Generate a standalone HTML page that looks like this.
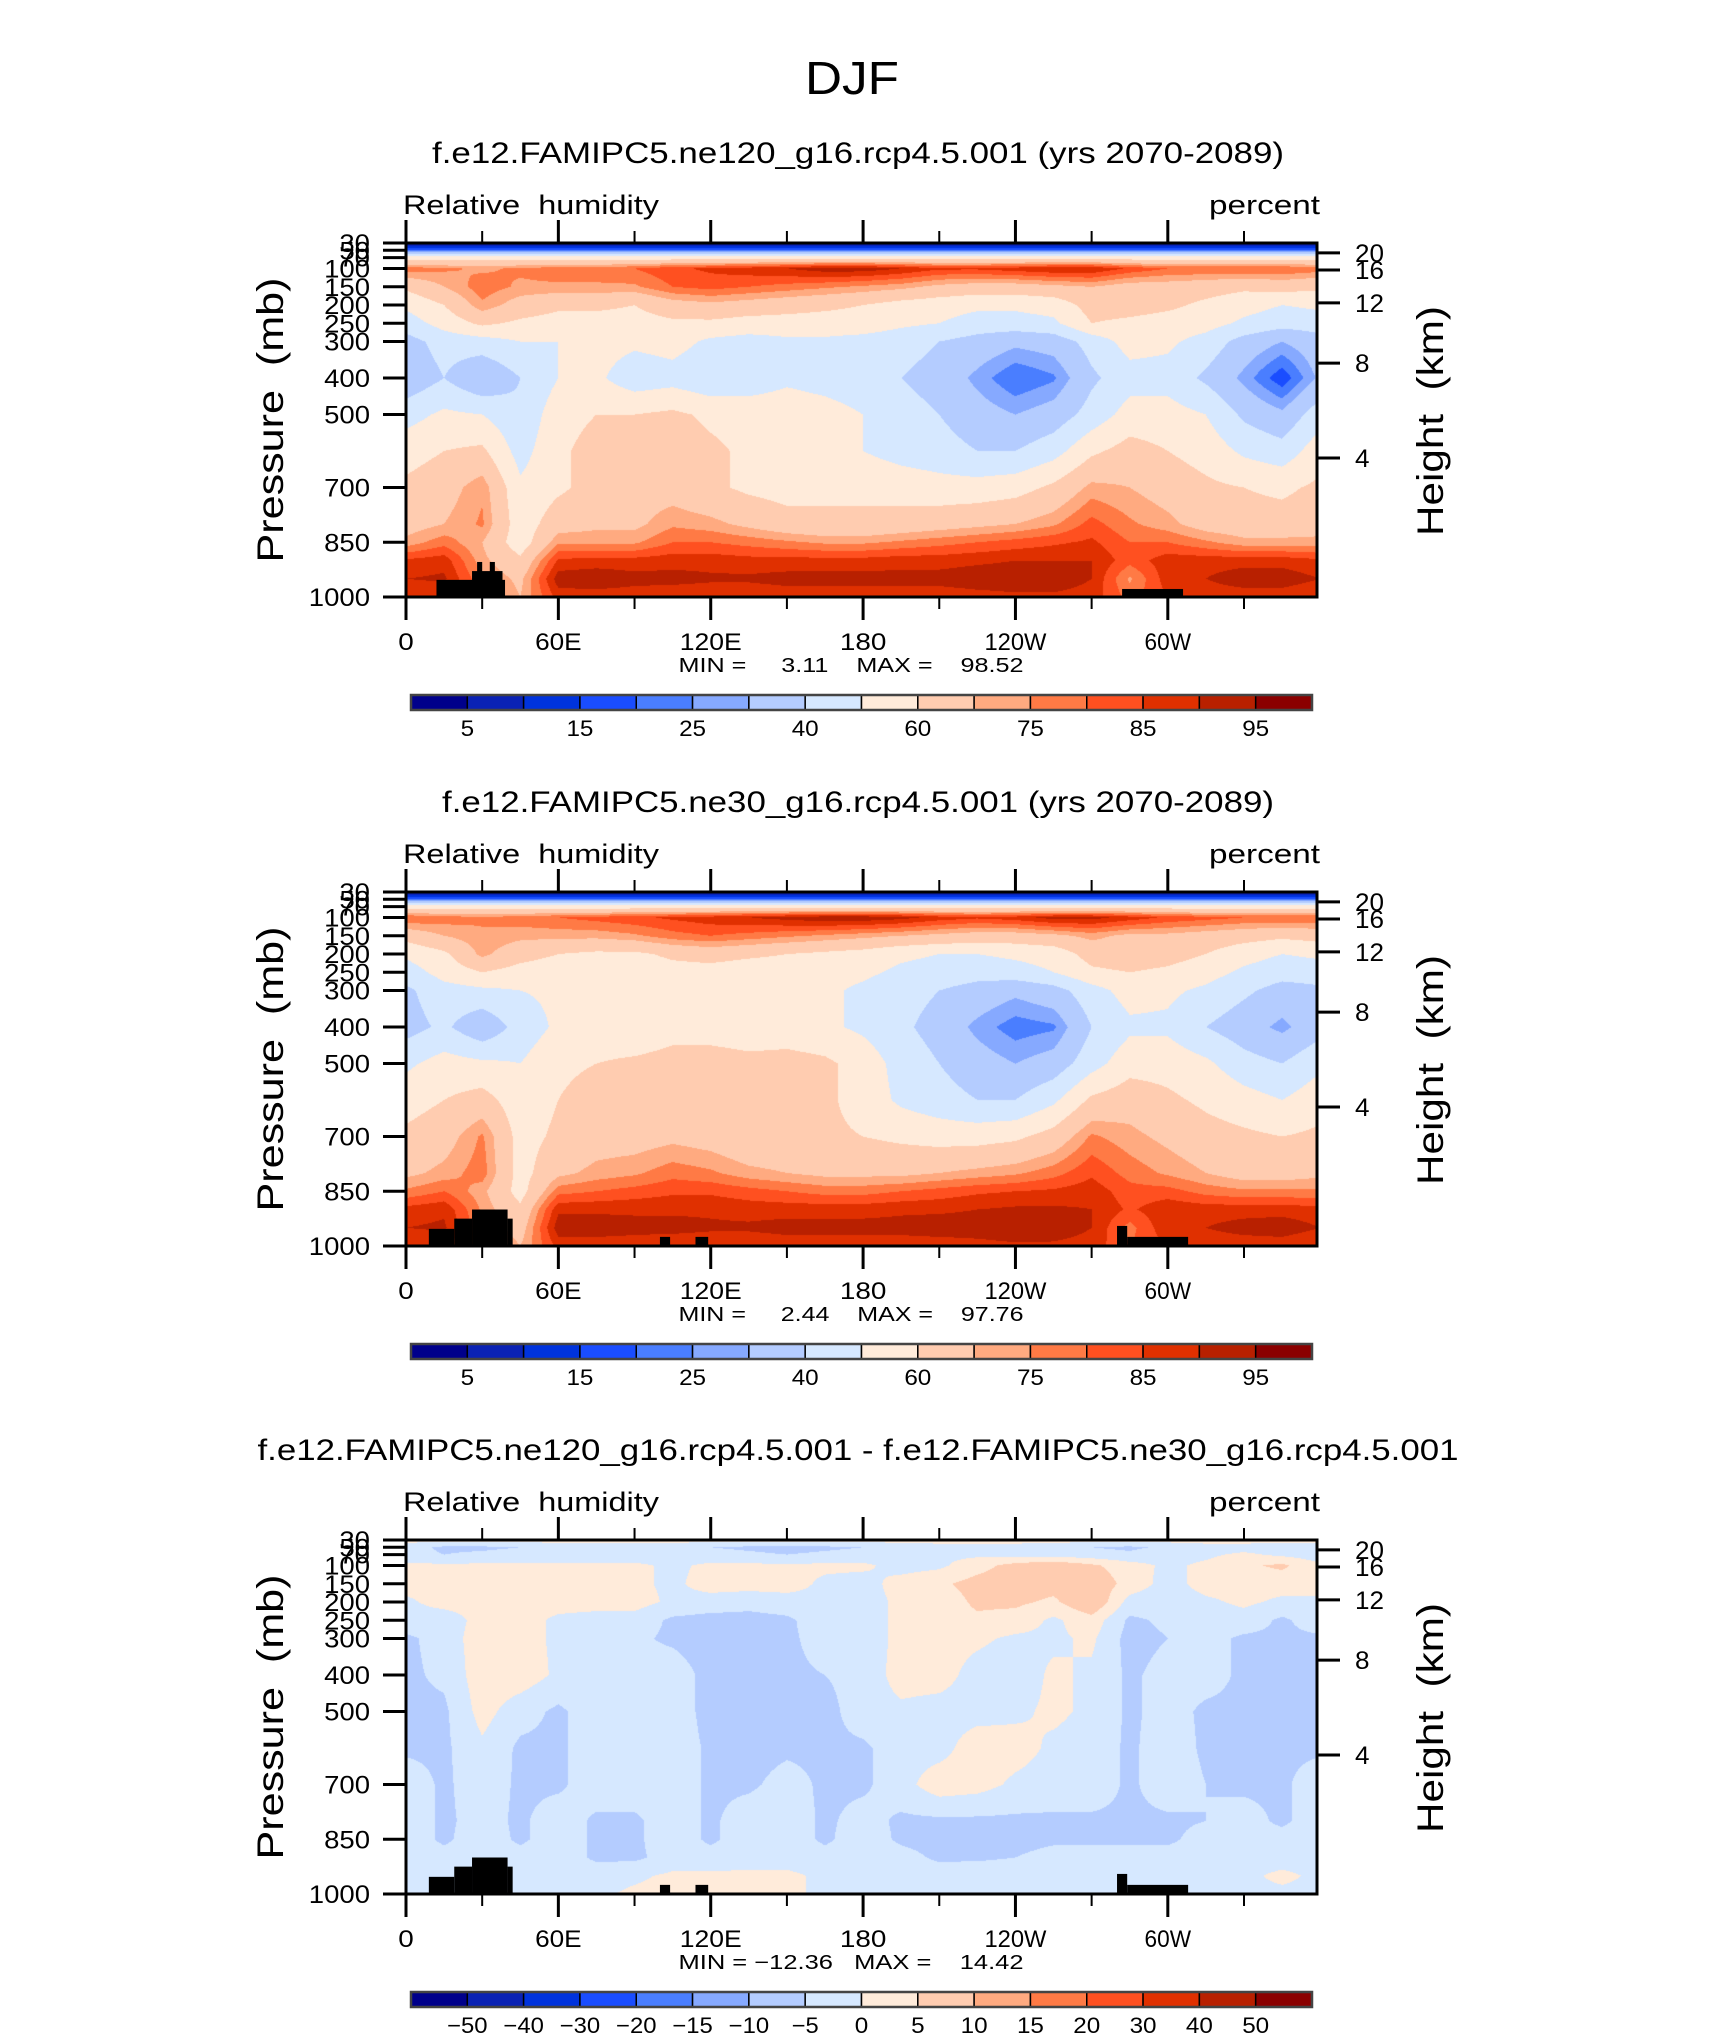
<!DOCTYPE html>
<html><head><meta charset="utf-8">
<style>
html,body{margin:0;padding:0;background:#fff;}
#wrap{position:relative;width:1710px;height:2038px;overflow:hidden;background:#fff;}
canvas{position:absolute;}
svg{position:absolute;left:0;top:0;}
text{font-family:"Liberation Sans",sans-serif;fill:#000;white-space:pre;}
</style></head>
<body>
<div id="wrap">
<canvas id="c1" width="911" height="354" style="left:406px;top:243px"></canvas>
<canvas id="c2" width="911" height="354" style="left:406px;top:892px"></canvas>
<canvas id="c3" width="911" height="354" style="left:406px;top:1540px"></canvas>
<svg id="svg" width="1710" height="2038">
<text x="852" y="94" font-size="46" text-anchor="middle" textLength="94" lengthAdjust="spacingAndGlyphs" style="font-weight:300">DJF</text>
</svg>
</div>
<script>
// ---------- data ----------
const pLevels = [30,50,70,100,150,200,250,300,400,500,600,700,800,850,900,950,1000];
const lonNodes = [0,15,30,45,60,75,90,105,120,135,150,165,180,195,210,225,240,255,270,285,300,315,330,345,360];

const rhNe120 = [
[3,3,3,3,3,3,3,3,3,3,3,3,3,3,3,3,3,3,3,3,3,3,3,3,3],
[22,22,22,22,22,22,22,22,22,22,22,22,22,22,22,22,22,22,22,22,22,22,22,22,22],
[55,55,55,55,55,55,55,55,55,55,55,55,55,55,55,55,55,55,55,55,55,55,55,55,55],
[78,76,74,76,78,78,80,84,86,88,90,93,93,90,86,86,88,90,90,84,80,80,80,80,78],
[62,70,78,74,74,74,74,80,82,80,78,76,74,72,68,66,66,68,70,66,66,64,62,64,62],
[52,60,74,66,62,62,60,66,68,66,64,62,60,56,54,52,52,54,64,64,62,58,54,50,52],
[45,54,62,58,56,56,56,58,58,56,56,56,56,52,50,46,46,48,60,58,56,54,48,44,45],
[36,44,46,50,50,54,52,54,48,46,48,48,46,44,40,36,32,34,44,54,52,46,36,30,36],
[32,40,30,40,50,52,44,46,42,44,48,46,44,40,36,28,20,24,38,46,46,38,28,16,32],
[46,52,50,42,56,60,60,62,58,56,56,54,50,44,40,34,30,34,44,54,54,50,38,32,46],
[56,60,62,46,58,64,66,66,62,58,58,56,50,46,44,40,40,46,58,64,60,56,48,44,56],
[62,66,74,52,58,64,66,66,62,58,56,58,58,56,54,54,56,62,72,70,66,62,60,58,62],
[66,70,76,54,66,68,68,74,72,68,64,62,62,64,66,68,70,74,82,76,72,66,64,64,66],
[72,78,70,54,74,74,74,80,80,78,76,74,74,76,78,80,82,84,86,80,80,76,72,72,72],
[86,88,72,62,86,87,87,88,88,87,87,87,87,88,88,89,90,90,90,82,88,88,88,88,86],
[90,91,76,68,93,94,92,92,91,91,92,92,92,92,92,93,93,93,90,74,88,90,93,93,90],
[85,85,80,70,87,87,87,86,86,86,87,87,87,87,87,88,89,89,88,78,85,87,87,87,85]];

const rhNe30 = [
[3,3,3,3,3,3,3,3,3,3,3,3,3,3,3,3,3,3,3,3,3,3,3,3,3],
[22,22,22,22,22,22,22,22,22,22,22,22,22,22,22,22,22,22,22,22,22,22,22,22,22],
[55,55,55,55,55,55,55,55,55,55,55,55,55,55,55,55,55,55,55,55,55,55,55,55,55],
[80,78,76,78,80,82,84,86,88,90,92,94,94,92,88,86,88,92,92,88,84,82,80,80,80],
[64,70,74,72,72,72,74,78,80,78,76,74,72,70,68,66,66,68,72,68,68,66,64,62,64],
[52,58,72,64,60,58,58,62,64,62,60,58,56,52,50,50,52,54,64,66,64,60,54,50,52],
[45,54,60,56,54,54,54,56,56,54,54,54,52,48,46,44,46,50,58,60,58,54,48,44,45],
[38,46,48,50,52,54,54,54,52,50,52,52,48,44,40,36,32,36,46,54,52,48,42,36,38],
[36,42,32,44,52,54,52,56,54,52,54,52,48,42,36,28,22,24,40,48,48,40,34,28,36],
[48,54,52,50,58,60,62,64,66,64,64,62,56,46,40,34,30,34,46,56,56,52,44,40,48],
[56,60,64,54,60,64,66,66,64,62,62,62,56,48,44,40,40,48,62,66,62,58,54,50,56],
[62,66,76,56,62,66,66,68,66,62,62,62,60,58,56,56,58,64,76,72,68,64,62,60,62],
[68,72,78,56,68,72,74,78,76,72,70,68,68,68,70,72,74,78,84,78,74,70,66,66,68],
[76,80,72,56,78,80,82,84,84,82,80,78,78,80,82,84,85,86,88,82,82,78,76,76,76],
[87,89,74,62,89,89,89,89,89,88,88,88,88,89,89,90,91,91,90,84,89,88,88,88,87],
[90,91,76,66,93,93,92,92,91,91,92,92,92,92,93,93,94,93,90,78,89,90,92,93,90],
[85,85,80,70,87,87,87,86,86,86,87,87,87,87,87,88,89,89,88,80,85,87,87,87,85]];

const rhDiff = [
[2,2,2,2,2,2,2,2,2,2,2,2,2,2,2,2,2,2,2,2,2,2,2,2,2],
[-3,-6,-6,-5,-3,-3,-3,-3,-5,-6,-7,-6,-5,-3,-2,-2,-2,-3,-5,-6,-4,-2,-2,-3,-3],
[-3,-5,-4,-3,-3,-3,-3,-2,-3,-4,-5,-4,-3,-2,-1,-1,-2,-2,-3,-4,-2,-1,1,-1,-3],
[1,1,1,1,1,1,1,-1,1,1,1,1,1,-2,-1,3,7,9,6,2,-1,1,4,6,1],
[2,2,2,2,2,2,1,-1,2,2,2,-1,-2,2,4,7,8,7,9,3,-2,2,2,2,2],
[-1,2,2,2,2,2,2,-1,-2,-3,-2,-1,-2,1,2,6,6,4,10,-2,-3,-1,1,-1,-1],
[-2,-3,2,2,-1,-2,-2,-6,-7,-7,-6,-2,-2,1,3,4,3,-1,3,-6,-4,-3,-2,-6,-2],
[-6,-3,3,2,-1,-2,-4,-6,-8,-7,-6,-3,-2,1,2,1,-1,-1,1,-7,-5,-3,-6,-6,-6],
[-6,-4,3,3,-1,-1,-3,-2,-7,-7,-6,-5,-3,2,2,-2,-3,1,-1,-6,-3,-3,-6,-6,-6],
[-6,-6,2,-3,-6,-2,-2,-2,-7,-7,-7,-7,-2,-1,-2,-2,-1,1,-1,-6,-3,-6,-6,-6,-6],
[-6,-6,-1,-6,-6,-2,-2,-2,-6,-7,-6,-6,-6,-2,-2,3,2,-1,-2,-6,-2,-6,-6,-6,-6],
[-2,-6,-2,-6,-6,-2,-2,-2,-6,-6,-3,-6,-6,-2,3,2,-1,-2,-2,-6,-2,-5,-6,-6,-2],
[-2,-6,-3,-6,-2,-6,-6,-2,-6,-2,-2,-6,-3,-6,-6,-6,-6,-6,-6,-6,-6,-5,-3,-6,-2],
[-2,-6,-2,-6,-2,-6,-6,-2,-6,-2,-2,-6,-2,-6,-7,-7,-7,-6,-6,-6,-6,-3,-3,-3,-2],
[-2,-3,-2,-3,-2,-6,-6,-3,-3,-2,-2,-3,-2,-3,-6,-6,-5,-3,-3,-3,-3,-2,-2,-2,-2],
[-1,-2,-1,-2,-2,-2,-1,1,1,1,1,-1,-1,-2,-2,-1,-1,-1,-1,-2,-1,-1,-1,1,-1],
[-1,-2,-1,-2,-1,-1,1,2,2,1,1,-1,-1,-1,-1,-1,-1,-1,-1,-1,-1,-1,-1,-1,-1]];

const rhLevels = [5,10,15,20,25,30,40,50,60,70,75,80,85,90,95];
const rhLabels = ['5','15','25','40','60','75','85','95'];
const diffLevels = [-50,-40,-30,-20,-15,-10,-5,0,5,10,15,20,30,40,50];
const diffLabels = ['\u221250','\u221240','\u221230','\u221220','\u221215','\u221210','\u22125','0','5','10','15','20','30','40','50'];
const palette = ['#00008B','#0A22B4','#0033DD','#1A4DFF','#4A7EFF','#86A9FF','#B4CCFF','#D6E8FF','#FFEBDA','#FFCCB0','#FFAA80','#FF7A45','#FF5020','#E03000','#B82000','#8B0000'];

// topography masks: lon start, lon end, top pressure
const topo1Lon0 = [12,26,28,33,282];
const topo1Lon1 = [39,38,30,35,306];
const topo1TopP = [953,929,904,904,978];
const topo2Lon0 = [9,19,26,40,100,114,280,284];
const topo2Lon1 = [19,26,40,42,104,119,284,308];
const topo2TopP = [953,925,900,925,975,975,945,975];

const lonTicksMajor = [0,60,120,180,240,300];
const lonTickLabels = ['0','60E','120E','180','120W','60W'];
const lonTicksMinor = [30,90,150,210,270,330];
const pTicks = [30,50,70,100,150,200,250,300,400,500,700,850,1000];
const heightTickLabels = ['20','16','12','8','4'];
const heightTickP = [57,104,194,359,619];

// ---------- geometry ----------
const PX0 = 406, PW = 911, PH = 354, LONMAX = 358.75;
function xOf(lon){ return PX0 + lon / LONMAX * PW; }
function yOf(top, p){ return top + (p - 30) / 970 * PH; }

function hexRGB(h){ return [parseInt(h.substr(1,2),16),parseInt(h.substr(3,2),16),parseInt(h.substr(5,2),16)]; }
const palRGB = palette.map(hexRGB);

function drawField(id, grid, levels){
  const cv = document.getElementById(id);
  const ctx = cv.getContext('2d');
  const img = ctx.createImageData(PW, PH);
  for (let py = 0; py < PH; py++){
    const p = 30 + (py + 0.5) / PH * 970;
    let r = 0;
    while (r < pLevels.length - 2 && p > pLevels[r+1]) r++;
    const t = Math.min(1, Math.max(0, (p - pLevels[r]) / (pLevels[r+1] - pLevels[r])));
    for (let px = 0; px < PW; px++){
      const lon = (px + 0.5) / PW * LONMAX;
      let c = Math.min(lonNodes.length - 2, Math.floor(lon / 15));
      const s = (lon - lonNodes[c]) / 15;
      const v = (grid[r][c]*(1-s) + grid[r][c+1]*s)*(1-t) + (grid[r+1][c]*(1-s) + grid[r+1][c+1]*s)*t;
      let k = 0;
      while (k < levels.length && v >= levels[k]) k++;
      const col = palRGB[k];
      const o = (py * PW + px) * 4;
      img.data[o] = col[0]; img.data[o+1] = col[1]; img.data[o+2] = col[2]; img.data[o+3] = 255;
    }
  }
  ctx.putImageData(img, 0, 0);
}

const NS = 'http://www.w3.org/2000/svg';
const svg = document.getElementById('svg');
function mk(tag, attrs, name, parent){
  const el = document.createElementNS(NS, tag);
  for (const k in attrs) el.setAttribute(k, attrs[k]);
  
  
  (parent || svg).appendChild(el);
  return el;
}
function txt(x, y, s, size, anchor, name, len){
  const a = {x:x, y:y, 'font-size':size, 'text-anchor':anchor};
  if (len) { a.textLength = len; a.lengthAdjust = 'spacingAndGlyphs'; }
  const el = mk('text', a, name);
  el.textContent = s;
  return el;
}

function panel(top, title, titleLen, topoL0, topoL1, topoP, minmax, levels, labels, labelIdx, idx){
  const bot = top + PH;
  const g = mk('g', {}, 'panel-' + idx);
  txt(858, top - 80, title, 30, 'middle', 'panel-title-' + idx, titleLen);
  txt(403, top - 29, 'Relative  humidity', 27, 'start', 'variable-label-' + idx, 256);
  txt(1320, top - 29, 'percent', 27, 'end', 'units-label-' + idx, 111);
  for (let i = 0; i < topoL0.length; i++){
    const x0 = xOf(topoL0[i]), x1 = xOf(topoL1[i]), y0 = yOf(top, topoP[i]);
    mk('rect', {x:x0, y:y0, width:x1-x0, height:bot-y0, fill:'#000'}, 'topography-' + idx, g);
  }
  mk('rect', {x:PX0, y:top, width:PW, height:PH, fill:'none', stroke:'#000', 'stroke-width':3}, 'plot-frame-' + idx, g);
  lonTicksMajor.forEach((lon, i) => {
    const x = xOf(lon);
    mk('line', {x1:x, x2:x, y1:bot, y2:bot+23, stroke:'#000', 'stroke-width':3}, 'x-tick-' + idx, g);
    mk('line', {x1:x, x2:x, y1:top, y2:top-23, stroke:'#000', 'stroke-width':3}, 'x-tick-top-' + idx, g);
    const s = lonTickLabels[i];
    txt(x, bot + 53, s, 24, 'middle', 'x-tick-label-' + idx, s.length * 15.5);
  });
  lonTicksMinor.forEach(lon => {
    const x = xOf(lon);
    mk('line', {x1:x, x2:x, y1:bot, y2:bot+12, stroke:'#000', 'stroke-width':2}, 'x-minor-tick-' + idx, g);
    mk('line', {x1:x, x2:x, y1:top, y2:top-12, stroke:'#000', 'stroke-width':2}, 'x-minor-tick-top-' + idx, g);
  });
  pTicks.forEach(p => {
    const y = yOf(top, p);
    mk('line', {x1:PX0-23, x2:PX0, y1:y, y2:y, stroke:'#000', 'stroke-width':3}, 'y-tick-' + idx, g);
    const s = String(p);
    txt(370, y + 9, s, 25, 'end', 'y-tick-label-' + idx, s.length * 15.3);
  });
  heightTickP.forEach((p, i) => {
    const y = yOf(top, p);
    mk('line', {x1:PX0+PW, x2:PX0+PW+23, y1:y, y2:y, stroke:'#000', 'stroke-width':3}, 'height-tick-' + idx, g);
    const s = heightTickLabels[i];
    txt(1355, y + 9, s, 25, 'start', 'height-tick-label-' + idx, s.length * 14.5);
  });
  const pt = txt(0, 0, 'Pressure  (mb)', 37, 'middle', 'y-axis-title-' + idx, 285);
  pt.setAttribute('transform', 'translate(283,' + (top + 177) + ') rotate(-90)');
  const ht = txt(0, 0, 'Height  (km)', 37, 'middle', 'height-axis-title-' + idx, 230);
  ht.setAttribute('transform', 'translate(1443,' + (top + 178) + ') rotate(-90)');
  txt(851, bot + 75, minmax, 20, 'middle', 'min-max-label-' + idx, 345);
  const cbTop = bot + 98, cbX = 411, cbW = 901, bw = cbW / 16;
  for (let i = 0; i < 16; i++){
    mk('rect', {x:cbX + i*bw, y:cbTop, width:bw, height:15, fill:palette[i], stroke:'#000', 'stroke-width':1.5}, 'colorbar-box-' + idx, g);
  }
  mk('rect', {x:cbX, y:cbTop, width:cbW, height:15, fill:'none', stroke:'#444', 'stroke-width':2.5}, 'colorbar-frame-' + idx, g);
  labels.forEach((s, i) => {
    const b = labelIdx[i];
    txt(cbX + b*bw, cbTop + 41, s, 22, 'middle', 'colorbar-label-' + idx, Math.max(1, s.length) * 13.5);
  });
}

drawField('c1', rhNe120, rhLevels);
drawField('c2', rhNe30, rhLevels);
drawField('c3', rhDiff, diffLevels);

panel(243, 'f.e12.FAMIPC5.ne120_g16.rcp4.5.001 (yrs 2070-2089)', 852, topo1Lon0, topo1Lon1, topo1TopP,
  'MIN =     3.11    MAX =    98.52', rhLevels, rhLabels, [1,3,5,7,9,11,13,15], 1);
panel(892, 'f.e12.FAMIPC5.ne30_g16.rcp4.5.001 (yrs 2070-2089)', 832, topo2Lon0, topo2Lon1, topo2TopP,
  'MIN =     2.44    MAX =    97.76', rhLevels, rhLabels, [1,3,5,7,9,11,13,15], 2);
panel(1540, 'f.e12.FAMIPC5.ne120_g16.rcp4.5.001 - f.e12.FAMIPC5.ne30_g16.rcp4.5.001', 1201, topo2Lon0, topo2Lon1, topo2TopP,
  'MIN = \u221212.36   MAX =    14.42', diffLevels, diffLabels, [1,2,3,4,5,6,7,8,9,10,11,12,13,14,15], 3);
</script>
</body></html>
